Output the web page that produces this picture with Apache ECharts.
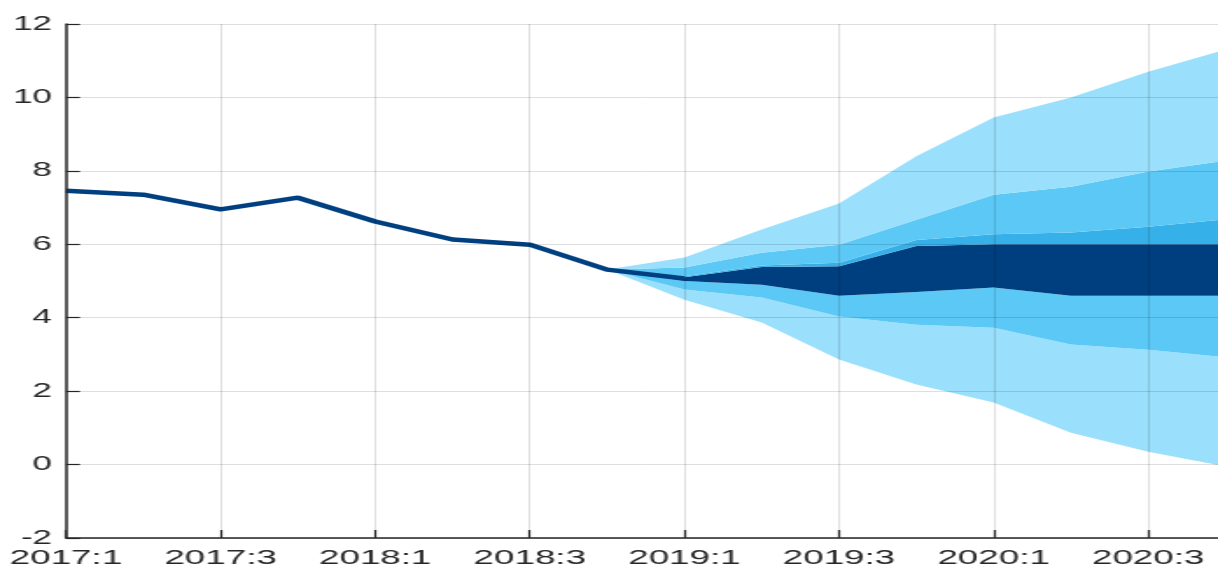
<!DOCTYPE html>
<html>
<head>
<meta charset="utf-8">
<script src="https://cdn.jsdelivr.net/npm/echarts@6/dist/echarts.min.js"></script>
<style>
  html, body { margin: 0; padding: 0; background: #fff; overflow: hidden; }
  /* the reference is a horizontally stretched figure, so draw narrow and stretch */
  #main { width: 696px; height: 571px; transform: scaleX(1.75); transform-origin: 0 0; }
</style>
</head>
<body>
<div id="main"></div>
<script>
// quarters 2017:1 .. 2020:4
const quarters = ['2017:1','2017:2','2017:3','2017:4','2018:1','2018:2','2018:3','2018:4',
                  '2019:1','2019:2','2019:3','2019:4','2020:1','2020:2','2020:3','2020:4'];
// history (2017:1 .. 2019:1)
const actual = [7.46, 7.35, 6.95, 7.27, 6.62, 6.13, 5.99, 5.31, 5.07];
// fan bounds, 2018:4 .. 2020:4
const outerLow  = [5.31, 4.49, 3.87, 2.86, 2.18, 1.69, 0.87, 0.35, -0.05];
const midLow    = [5.31, 4.77, 4.55, 4.03, 3.81, 3.73, 3.27, 3.13, 2.92];
const darkLow   = [5.31, 5.00, 4.90, 4.60, 4.70, 4.82, 4.60, 4.60, 4.60];
const darkHigh  = [5.31, 5.10, 5.38, 5.40, 5.95, 6.00, 6.00, 6.00, 6.00];
const innerHigh = [5.31, 5.13, 5.42, 5.50, 6.12, 6.27, 6.32, 6.48, 6.68];
const midHigh   = [5.31, 5.37, 5.77, 5.99, 6.67, 7.35, 7.57, 7.98, 8.28];
const outerHigh = [5.31, 5.64, 6.40, 7.11, 8.40, 9.45, 10.0, 10.7, 11.3];
const yTicks = { min: -2, max: 12, step: 2 };

const fanStart = 7;
const pad = v => Array(fanStart).fill(null).concat(v);
const diff = (a, b) => pad(a.map((v, i) => +(v - b[i]).toFixed(3)));

const bands = [
  { data: pad(outerLow), color: 'transparent' },
  { data: diff(midLow, outerLow), color: '#9adffc' },
  { data: diff(darkLow, midLow), color: '#5bc8f5' },
  { data: diff(darkHigh, darkLow), color: '#003f7f' },
  { data: diff(innerHigh, darkHigh), color: '#36b0e8' },
  { data: diff(midHigh, innerHigh), color: '#5bc8f5' },
  { data: diff(outerHigh, midHigh), color: '#9adffc' }
];

const chart = echarts.init(document.getElementById('main'));

const series = bands.map(b => ({
  type: 'line',
  stack: 'fan',
  stackStrategy: 'all',
  data: b.data,
  symbol: 'none',
  lineStyle: { width: 0 },
  areaStyle: { color: b.color, opacity: 1 },
  silent: true,
  z: 1
}));
series.push({
  type: 'line',
  data: actual,
  symbol: 'none',
  lineStyle: { color: '#004080', width: 4.5 },
  z: 3
});

chart.setOption({
  animation: false,
  grid: { left: 37.7, top: 24, width: 662.6, bottom: 33, containLabel: false, outerBoundsMode: 'none' },
  xAxis: {
    type: 'category',
    data: quarters,
    boundaryGap: false,
    z: 5,
    axisLine: { onZero: false, lineStyle: { color: '#262626', width: 1.5 } },
    axisTick: { inside: true, length: 8, interval: 1, lineStyle: { color: '#262626', width: 1.2 } },
    axisLabel: { interval: 1, margin: 10, fontSize: 21, color: '#262626', fontFamily: 'Liberation Sans' },
    splitLine: { show: true, interval: 1, lineStyle: { color: 'rgba(0,0,0,0.13)', width: 1 } }
  },
  yAxis: {
    type: 'value',
    min: yTicks.min,
    max: yTicks.max,
    interval: yTicks.step,
    z: 5,
    axisLine: { show: true, lineStyle: { color: '#262626', width: 1.5 } },
    axisTick: { show: true, inside: true, length: 8, lineStyle: { color: '#262626', width: 1.2 } },
    axisLabel: { margin: 8, fontSize: 20, color: '#262626', fontFamily: 'Liberation Sans' },
    splitLine: { show: true, lineStyle: { color: 'rgba(0,0,0,0.13)', width: 1 } }
  },
  series: series
});
</script>
</body>
</html>
